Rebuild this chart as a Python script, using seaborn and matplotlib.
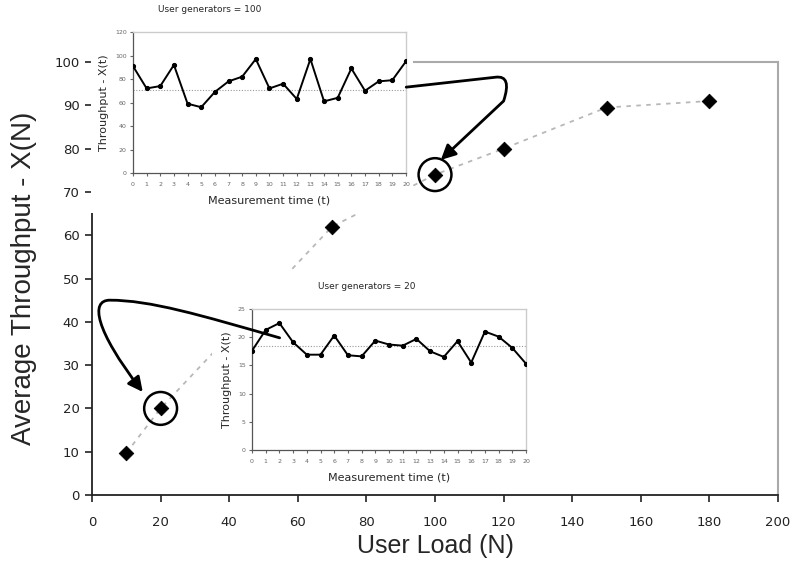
import numpy as np
import pandas as pd
import seaborn as sns
import matplotlib.pyplot as plt
from matplotlib.patches import Rectangle, FancyArrowPatch
from matplotlib.path import Path

# main curve: average throughput vs user load
user_load = [10, 20, 70, 100, 120, 150, 180]
avg_throughput = [9.7, 20, 62, 74, 80, 89.5, 91]
circled = [20, 100]

# inset series: throughput over measurement time
meas_time = list(range(21))
thr_100 = [91, 72, 74, 92, 59, 56, 69, 78, 82, 97, 72, 76, 63, 97, 61, 64, 89, 70, 78, 79, 95]
ref_100 = 71
thr_20 = [17.6, 21.3, 22.5, 19.1, 16.9, 16.9, 20.3, 16.8, 16.6, 19.4, 18.7, 18.5, 19.7,
          17.5, 16.5, 19.3, 15.5, 21.0, 20.1, 18.1, 15.3]
ref_20 = 18.5

sns.set_theme(style='white')
plt.rcParams['font.family'] = ['DejaVu Sans']

fig = plt.figure(figsize=(7.91, 5.75), dpi=100)
ax = fig.add_axes([0.1163, 0.1391, 0.8673, 0.7530])

main_df = pd.DataFrame({'N': user_load, 'X': avg_throughput})
sns.lineplot(data=main_df, x='N', y='X', ax=ax, color='#b8b8b8', lw=1.3,
             linestyle=(0, (2.5, 3)), zorder=1)
sns.scatterplot(data=main_df, x='N', y='X', ax=ax, marker='D', s=55, color='black',
                edgecolor='black', zorder=3)
circ = main_df[main_df['N'].isin(circled)]
ax.scatter(circ['N'], circ['X'], s=560, facecolors='none', edgecolors='black',
           linewidths=1.8, zorder=4)

ax.set_xlim(0, 200)
ax.set_ylim(0, 100)
ax.set_xticks(range(0, 201, 20))
ax.set_yticks(range(0, 101, 10))
ax.tick_params(axis='both', direction='out', length=5, width=1.2, colors='#222222',
               labelsize=9.5, left=True, bottom=True, pad=4)
ax.tick_params(axis='x', pad=10)
for s in ['left', 'bottom']:
    ax.spines[s].set_color('#222222')
    ax.spines[s].set_linewidth(1.3)
for s in ['top', 'right']:
    ax.spines[s].set_color('#aaaaaa')
    ax.spines[s].set_linewidth(1.5)

ax.set_xlabel('User Load (N)', fontsize=18, family='Liberation Sans')
ax.set_ylabel('Average Throughput - X(N)', fontsize=20, family='Liberation Sans')
ax.xaxis.set_label_coords(0.5, -0.090)
ax.yaxis.set_label_coords(-0.080, 0.50)

# white backgrounds that the insets sit on
fig.add_artist(Rectangle((0.1150, 0.6296), 0.4072, 0.3704, transform=fig.transFigure,
                         facecolor='white', edgecolor='none', zorder=1))
fig.add_artist(Rectangle((0.268, 0.1478), 0.408, 0.379, transform=fig.transFigure,
                         facecolor='white', edgecolor='none', zorder=1))


def draw_inset(rect, values, ref, ymax, ystep, title, title_x):
    ins = fig.add_axes(rect, zorder=2)
    df = pd.DataFrame({'t': meas_time, 'v': values})
    ins.axhline(ref, color='#999999', lw=0.8, ls=(0, (1, 1.5)), zorder=1)
    sns.lineplot(data=df, x='t', y='v', ax=ins, color='black', lw=1.4, marker='o',
                 markersize=3, markeredgecolor='black', zorder=3)
    ins.set_xlim(0, 20)
    ins.set_ylim(0, ymax)
    ins.set_xticks(meas_time)
    ins.set_yticks(np.arange(0, ymax + 1, ystep))
    ins.tick_params(axis='both', direction='out', length=2.5, width=0.8, colors='#666666',
                    labelsize=4.5, left=True, bottom=True, pad=2)
    ins.tick_params(axis='x', pad=4)
    for s in ['left', 'bottom']:
        ins.spines[s].set_color('#555555')
        ins.spines[s].set_linewidth(0.9)
    for s in ['top', 'right']:
        ins.spines[s].set_color('#cccccc')
        ins.spines[s].set_linewidth(1.0)
    ins.set_xlabel('Measurement time (t)', fontsize=8, labelpad=6)
    ins.set_ylabel('Throughput - X(t)', fontsize=8, labelpad=4)
    ins.text(title_x, 1.16, title, transform=ins.transAxes, ha='center', va='center',
             fontsize=6.5)
    return ins


draw_inset([0.1681, 0.6991, 0.3451, 0.2452], thr_100, ref_100, 120, 20,
           'User generators = 100', 0.28)
draw_inset([0.3186, 0.2174, 0.3464, 0.2452], thr_20, ref_20, 25, 5,
           'User generators = 20', 0.42)

# curved arrows pointing at the circled points (main data coordinates)
arrow1 = Path([(91.6, 94.2), (117.7, 96.5), (122.5, 97.0), (120.0, 91.0), (101.7, 77.4)],
              [Path.MOVETO, Path.LINETO, Path.CURVE3, Path.CURVE3, Path.LINETO])
arrow2 = Path([(54.7, 36.3), (31.4, 41.6), (16.9, 45.0), (5.2, 45.0),
               (-0.6, 45.0), (0.9, 38.1), (14.8, 23.8)],
              [Path.MOVETO, Path.CURVE4, Path.CURVE4, Path.CURVE4,
               Path.CURVE4, Path.CURVE4, Path.CURVE4])
for p in [arrow1, arrow2]:
    fig.add_artist(FancyArrowPatch(path=p, arrowstyle='-|>', mutation_scale=22, lw=2,
                                   color='black', transform=ax.transData, zorder=10))

fig.savefig('out.png', dpi=100)
